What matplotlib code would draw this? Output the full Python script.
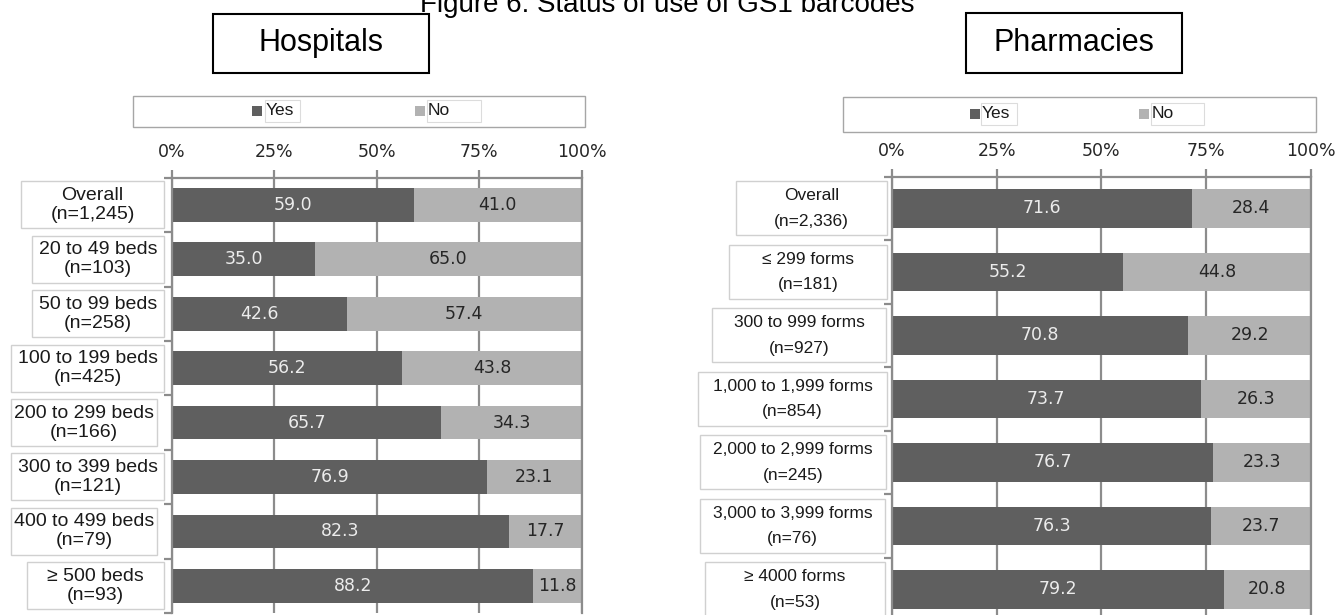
import matplotlib
matplotlib.use("Agg")
import matplotlib.pyplot as plt
from matplotlib.patches import Rectangle
from matplotlib.transforms import blended_transform_factory

plt.rcParams.update({
    "font.family": ["Liberation Sans", "DejaVu Sans"],
    "figure.facecolor": "white",
})

# Survey results (% of respondents)
hosp_cats = ["Overall\n(n=1,245)", "20 to 49 beds\n(n=103)", "50 to 99 beds\n(n=258)",
             "100 to 199 beds\n(n=425)", "200 to 299 beds\n(n=166)", "300 to 399 beds\n(n=121)",
             "400 to 499 beds\n(n=79)", "\u2265 500 beds\n(n=93)"]
hosp_yes = [59.0, 35.0, 42.6, 56.2, 65.7, 76.9, 82.3, 88.2]
hosp_no = [41.0, 65.0, 57.4, 43.8, 34.3, 23.1, 17.7, 11.8]

pharm_cats = ["Overall\n(n=2,336)", "\u2264 299 forms\n(n=181)", "300 to 999 forms\n(n=927)",
              "1,000 to 1,999 forms\n(n=854)", "2,000 to 2,999 forms\n(n=245)",
              "3,000 to 3,999 forms\n(n=76)", "\u2265 4000 forms\n(n=53)"]
pharm_yes = [71.6, 55.2, 70.8, 73.7, 76.7, 76.3, 79.2]
pharm_no = [28.4, 44.8, 29.2, 26.3, 23.3, 23.7, 20.8]

ticks = [0, 25, 50, 75, 100]

C_YES = "#5f5f5f"
C_NO = "#b2b2b2"
C_GRID = "#8c8c8c"
C_BOX = "#d0d0d0"
NUM_FONT = "DejaVu Sans"

W, H = 1338, 615
fig = plt.figure(figsize=(W / 100, H / 100), dpi=100)


def rect(x0, y0, x1, y1):
    # pixel box (top-left origin) -> figure fraction [l, b, w, h]
    return [x0 / W, 1 - y1 / H, (x1 - x0) / W, (y1 - y0) / H]


def draw_panel(axpos, cats, yes, no, bar_h, box_x, box_h, lab_size, lab_spacing):
    ax = fig.add_axes(rect(*axpos))
    y = list(range(len(cats)))
    ax.barh(y, yes, height=bar_h, color=C_YES, zorder=2)
    ax.barh(y, no, left=yes, height=bar_h, color=C_NO, zorder=2)
    for i, (a, b) in enumerate(zip(yes, no)):
        ax.text(a / 2, i, f"{a:.1f}", ha="center", va="center", color="#ececec",
                fontsize=12.5, family=NUM_FONT, zorder=3)
        ax.text(a + b / 2, i, f"{b:.1f}", ha="center", va="center", color="#262626",
                fontsize=12.5, family=NUM_FONT, zorder=3)

    ax.set_xlim(0, 100)
    ax.set_ylim(len(cats) - 0.5, -0.5)
    ax.set_axisbelow(True)
    ax.xaxis.tick_top()
    ax.set_xticks(ticks)
    ax.set_xticklabels([f"{t}%" for t in ticks], family=NUM_FONT, fontsize=12.5,
                       color="#262626")
    ax.tick_params(axis="x", direction="out", length=6, width=1.6, color=C_GRID, pad=6)
    ax.xaxis.grid(True, color=C_GRID, lw=1.6)
    ax.set_yticks([])
    ax.set_yticks([i - 0.5 for i in range(len(cats) + 1)], minor=True)
    ax.tick_params(axis="y", which="minor", direction="out", length=6, width=1.6,
                   color=C_GRID)
    ax.spines["bottom"].set_visible(False)
    for s in ("top", "left", "right"):
        ax.spines[s].set_color(C_GRID)
        ax.spines[s].set_linewidth(1.6)

    # category labels in outlined text boxes
    trans = blended_transform_factory(fig.transFigure, ax.transData)
    row_px = (axpos[3] - axpos[1]) / len(cats)
    h = box_h / row_px
    for i, lab in enumerate(cats):
        x0, x1 = box_x[i]
        ax.add_patch(Rectangle((x0 / W, i - h / 2), (x1 - x0) / W, h, transform=trans,
                               facecolor="white", edgecolor=C_BOX, lw=1.0, clip_on=False))
        ax.text((x0 + x1) / 2 / W, i, lab, transform=trans, ha="center", va="center",
                multialignment="center", fontsize=lab_size, linespacing=lab_spacing,
                color="#1a1a1a")
    return ax


def header(x0, y0, x1, y1, label):
    l, b, w, h = rect(x0, y0, x1, y1)
    fig.patches.append(Rectangle((l, b), w, h, transform=fig.transFigure,
                                 facecolor="white", edgecolor="black", lw=1.5))
    fig.text(l + w / 2, b + h / 2, label, ha="center", va="center", fontsize=22)


def legend(box, yes_x, no_x, yc):
    l, b, w, h = rect(*box)
    fig.patches.append(Rectangle((l, b), w, h, transform=fig.transFigure,
                                 facecolor="white", edgecolor="#a6a6a6", lw=1.0))
    for (sx, tx, tx1), lab, col in ((yes_x, "Yes", C_YES), (no_x, "No", C_NO)):
        sl, sb, sw, sh = rect(sx, yc - 5, sx + 10, yc + 5)
        fig.patches.append(Rectangle((sl, sb), sw, sh, transform=fig.transFigure,
                                     facecolor=col, edgecolor="none"))
        bl, bb, bw, bh = rect(tx, yc - 11, tx1, yc + 11)
        fig.patches.append(Rectangle((bl, bb), bw, bh, transform=fig.transFigure,
                                     facecolor="none", edgecolor="#dcdcdc", lw=0.8))
        fig.text((tx + 1) / W, 1 - yc / H, lab, ha="left", va="center", fontsize=12.5,
                 color="#1a1a1a")


fig.text(667 / W, 1 - 12 / H, "Figure 6: Status of use of GS1 barcodes",
         ha="center", va="baseline", fontsize=20)

header(213, 14, 429, 73, "Hospitals")
header(966, 13, 1182, 73, "Pharmacies")

legend((133, 96, 585, 127), (252, 265, 300), (415, 427, 481), 111)
legend((843, 97, 1316, 132), (970, 981, 1017), (1139, 1151, 1204), 114)

draw_panel((172, 177.7, 581.7, 613.0), hosp_cats, hosp_yes, hosp_no, bar_h=0.62,
           box_x=[(21, 164), (32, 164), (32, 164), (11, 164), (11, 157), (11, 164),
                  (11, 157), (27, 164)],
           box_h=47, lab_size=14, lab_spacing=1.15)
draw_panel((892, 176.7, 1310.7, 621.2), pharm_cats, pharm_yes, pharm_no, bar_h=0.6,
           box_x=[(736, 887), (729, 887), (712, 886), (698, 887), (700, 886),
                  (700, 885), (705, 885)],
           box_h=54, lab_size=12.5, lab_spacing=1.85)

fig.savefig("out.png", dpi=100, facecolor="white")
